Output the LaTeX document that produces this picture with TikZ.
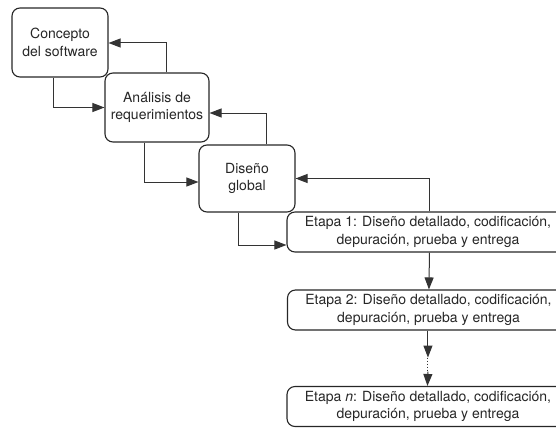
\documentclass[tikz,border=0pt]{standalone}
\usepackage{fontspec}
\setmainfont{TeX Gyre Heros}
\usetikzlibrary{arrows.meta,calc}
\begin{document}
\begin{tikzpicture}[x=1pt,y=-1pt,
  box/.style={draw=black!85,line width=1.1pt,rounded corners=8pt,align=center,
    inner sep=0pt,font=\fontsize{14}{17.5}\selectfont,text=black!85},
  arr/.style={draw=black!80,line width=1pt,-{Triangle[length=12pt,width=9pt]}},
  lin/.style={draw=black!80,line width=1pt}]
\useasboundingbox (0,0) rectangle (556,428);
\clip (0,0) rectangle (556,428);
% stage boxes
\node[box,minimum width=96pt,minimum height=69pt] (c1) at (60,42.5) {Concepto\\del software};
\node[box,minimum width=104pt,minimum height=69pt] (c2) at (157,107.5) {Análisis de\\requerimientos};
\node[box,minimum width=96pt,minimum height=67pt] (c3) at (247,178.5) {Diseño\\global};
\node[box,minimum width=282pt,minimum height=40pt] (e1) at (428,232) {Etapa 1: Diseño detallado, codificación,\\depuración, prueba y entrega};
\node[box,minimum width=282pt,minimum height=40pt] (e2) at (428.5,310) {Etapa 2: Diseño detallado, codificación,\\depuración, prueba y entrega};
\node[box,minimum width=282pt,minimum height=40pt] (en) at (428,406.5) {Etapa \textit{n}: Diseño detallado, codificación,\\depuración, prueba y entrega};
% forward flow
\draw[arr] ($(c1.south west)+(42,0)$) |- ($(c2.west)+(0,0)$);
\draw[arr] ($(c2.south west)+(40,0)$) |- ($(c3.west)+(0,3.5)$);
\draw[arr] ($(c3.south west)+(40,0)$) |- ($(e1.west)+(0,13)$);
% feedback flow
\draw[arr] ($(c2.north west)+(62,0)$) |- ($(c1.east)+(0,0.5)$);
\draw[arr] ($(c3.north west)+(68,0)$) |- ($(c2.east)+(0,5.5)$);
\draw[arr] ($(e1.north west)+(143,0)$) |- (c3.east);
% stage sequence
\draw[arr] ($(e1.south west)+(143,0)$) -- ($(e2.north west)+(142,0)$);
\coordinate (d1) at ($(e2.south west)+(141,27)$);
\coordinate (d2) at ($(e2.south west)+(141,41)$);
\draw[arr] ($(e2.south west)+(141,0)$) -- (d1);
\draw[lin,dotted] (d1) -- (d2);
\draw[arr] (d2) -- ($(en.north west)+(141,0)$);
\end{tikzpicture}
\end{document}
